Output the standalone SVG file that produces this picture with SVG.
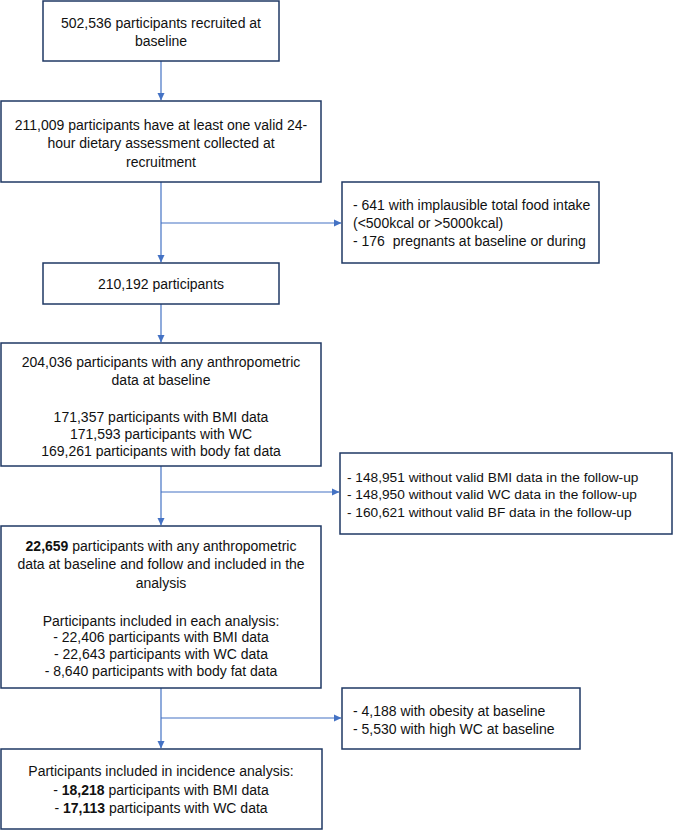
<svg xmlns="http://www.w3.org/2000/svg" width="685" height="830" viewBox="0 0 685 830">
<defs>
<marker id="ah" markerWidth="8" markerHeight="8" refX="7" refY="4" orient="auto" markerUnits="userSpaceOnUse">
<path d="M0,0.5 L7.5,4 L0,7.5 Z" fill="#4472C4"/>
</marker>
<style>
.box{fill:#fff;stroke:#1F3864;stroke-width:1.5}
.t{font-family:"Liberation Sans",Arial,sans-serif;font-size:14px;fill:#111}
.s{font-size:13.7px}
.c{text-anchor:middle}
.b{font-weight:bold}
.ln{fill:none;stroke:#4472C4;stroke-width:1.2}
</style>
</defs>
<rect width="685" height="830" fill="#fff"/>
<g id="connectors">
<line class="ln" x1="161" y1="61" x2="161" y2="100" marker-end="url(#ah)"/>
<line class="ln" x1="161" y1="182" x2="161" y2="262" marker-end="url(#ah)"/>
<line class="ln" x1="161" y1="223" x2="341" y2="223" marker-end="url(#ah)"/>
<line class="ln" x1="161" y1="304" x2="161" y2="342" marker-end="url(#ah)"/>
<line class="ln" x1="161" y1="466" x2="161" y2="525" marker-end="url(#ah)"/>
<line class="ln" x1="161" y1="492" x2="339" y2="492" marker-end="url(#ah)"/>
<line class="ln" x1="161" y1="688" x2="161" y2="748" marker-end="url(#ah)"/>
<line class="ln" x1="161" y1="718" x2="341" y2="718" marker-end="url(#ah)"/>
</g>
<g id="n1">
<rect class="box" x="43" y="1" width="236" height="60"/>
<text class="t c" x="161" y="28">502,536 participants recruited at</text>
<text class="t c" x="161" y="46">baseline</text>
</g>
<g id="n2">
<rect class="box" x="1" y="101" width="320" height="81"/>
<text class="t c" x="161" y="130">211,009 participants have at least one valid 24-</text>
<text class="t c" x="161" y="148">hour dietary assessment collected at</text>
<text class="t c" x="161" y="167">recruitment</text>
</g>
<g id="x1">
<rect class="box" x="342" y="182" width="257" height="81"/>
<text class="t" x="353" y="210">- 641 with implausible total food intake</text>
<text class="t" x="353" y="228">(&lt;500kcal or &gt;5000kcal)</text>
<text class="t" x="353" y="246" xml:space="preserve">- 176  pregnants at baseline or during</text>
</g>
<g id="n3">
<rect class="box" x="43" y="263" width="236" height="41"/>
<text class="t c" x="161" y="289">210,192 participants</text>
</g>
<g id="n4">
<rect class="box" x="1" y="343" width="320" height="123"/>
<text class="t c" x="161" y="367">204,036 participants with any anthropometric</text>
<text class="t c" x="161" y="385">data at baseline</text>
<text class="t c" x="161" y="422">171,357 participants with BMI data</text>
<text class="t c" x="161" y="439">171,593 participants with WC</text>
<text class="t c" x="161" y="456">169,261 participants with body fat data</text>
</g>
<g id="x2">
<rect class="box" x="340" y="453" width="332" height="81"/>
<text class="t s" x="347" y="482">- 148,951 without valid BMI data in the follow-up</text>
<text class="t s" x="347" y="499">- 148,950 without valid WC data in the follow-up</text>
<text class="t s" x="347" y="517">- 160,621 without valid BF data in the follow-up</text>
</g>
<g id="n5">
<rect class="box" x="1" y="526" width="320" height="162"/>
<text class="t c" x="161" y="551"><tspan class="b">22,659</tspan> participants with any anthropometric</text>
<text class="t c" x="161" y="569">data at baseline and follow and included in the</text>
<text class="t c" x="161" y="588">analysis</text>
<text class="t c" x="161" y="626">Participants included in each analysis:</text>
<text class="t c" x="161" y="642">- 22,406 participants with BMI data</text>
<text class="t c" x="161" y="659">- 22,643 participants with WC data</text>
<text class="t c" x="161" y="676">- 8,640 participants with body fat data</text>
</g>
<g id="x3">
<rect class="box" x="342" y="688" width="238" height="61"/>
<text class="t" x="353" y="716">- 4,188 with obesity at baseline</text>
<text class="t" x="353" y="734">- 5,530 with high WC at baseline</text>
</g>
<g id="n6">
<rect class="box" x="1" y="749" width="321" height="80"/>
<text class="t c" x="161" y="776">Participants included in incidence analysis:</text>
<text class="t c" x="161" y="795">- <tspan class="b">18,218</tspan> participants with BMI data</text>
<text class="t c" x="161" y="813">- <tspan class="b">17,113</tspan> participants with WC data</text>
</g>
</svg>
